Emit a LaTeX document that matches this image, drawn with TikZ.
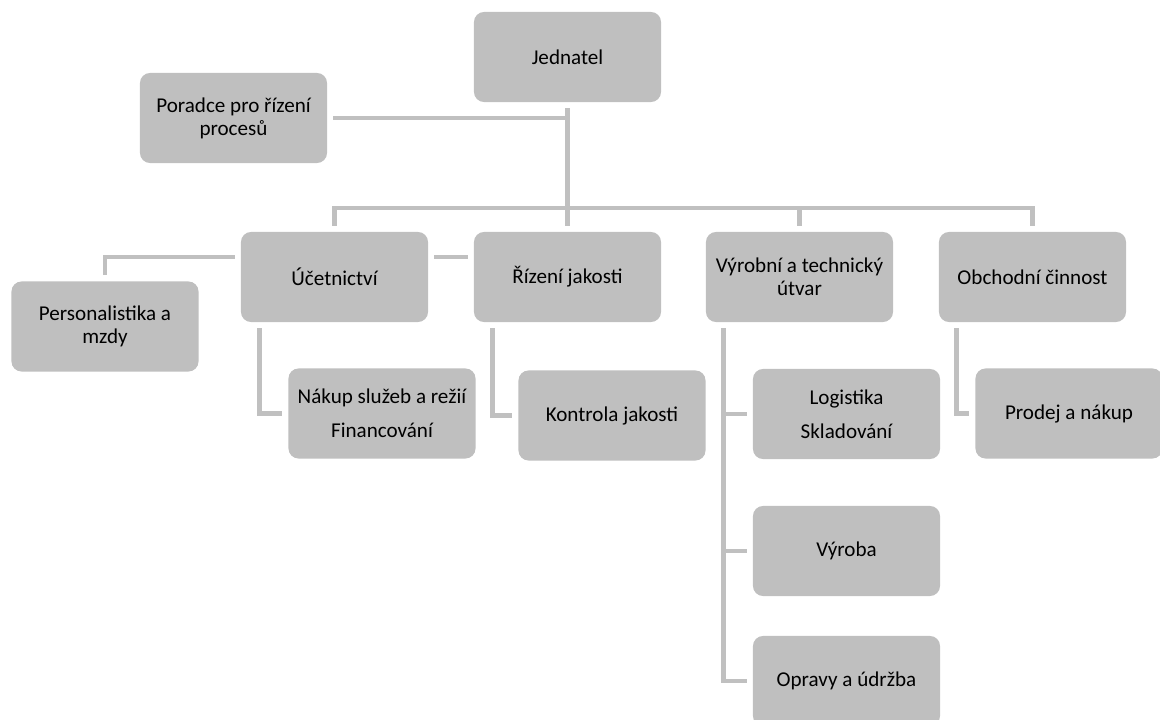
\documentclass[tikz,border=0pt]{standalone}
\usepackage{fontspec}
\setmainfont{Carlito}
\definecolor{boxgray}{HTML}{BFBFBF}
\definecolor{linegray}{HTML}{C0C0C0}
\begin{document}
\begin{tikzpicture}[
    x=0.025cm, y=-0.025cm,
    unit/.style={rectangle, fill=boxgray, rounded corners=0.25cm, minimum width=4.675cm, minimum height=2.25cm, align=center, inner sep=2pt, font=\fontsize{15}{16.5}\selectfont},
    link/.style={draw=linegray, line width=3.5pt, shorten <=0.15cm, shorten >=0.15cm},
    ]

    \clip (0,0) rectangle (1160,720);

    % Top management
    \node[unit] (jed) at (567.5,57) {Jednatel};
    \node[unit] (por) at (233.5,118) {Poradce pro řízení\\procesů};

    % Departments
    \node[unit] (uce) at (334.5,277) {Účetnictví};
    \node[unit] (riz) at (567.5,277) {Řízení jakosti};
    \node[unit] (vyr) at (799.5,277) {Výrobní a technický\\útvar};
    \node[unit] (obc) at (1032.5,277) {Obchodní činnost};

    % Sub-units
    \node[unit] (per) at (105,326.5) {Personalistika a\\mzdy};
    \node[unit] (nak) at (382,413.5) {Nákup služeb a režií\\[8pt]Financování};
    \node[unit] (kon) at (612,415.5) {Kontrola jakosti};
    \node[unit] (log) at (846.5,414) {Logistika\\[8pt]Skladování};
    \node[unit] (vyb) at (846.5,551) {Výroba};
    \node[unit] (opr) at (846.5,681) {Opravy a údržba};
    \node[unit] (pro) at (1069,413.5) {Prodej a nákup};

    % Connectors - top
    \coordinate (bar) at (567.5,208);
    \draw[link] (jed.south) -- (riz.north);
    \draw[link, shorten >=0pt] (por.east) -- (por.east -| jed.south);
    \draw[link] (uce.north) |- (bar) -| (obc.north);
    \draw[link, shorten >=0pt] (vyr.north) -- (vyr.north |- bar);

    % Connectors - assistant line
    \draw[link] (per.north) |- ([yshift=0.5cm]uce.west);
    \draw[link] ([yshift=0.5cm]uce.east) -- ([yshift=0.5cm]riz.west);

    % Connectors - sub-units
    \draw[link] ([xshift=0.475cm]uce.south west) |- (nak.west);
    \draw[link] ([xshift=0.475cm]riz.south west) |- (kon.west);
    \draw[link] ([xshift=0.45cm]vyr.south west) |- (log.west);
    \draw[link] ([xshift=0.45cm]vyr.south west) |- (vyb.west);
    \draw[link] ([xshift=0.45cm]vyr.south west) |- (opr.west);
    \draw[link] ([xshift=0.45cm]obc.south west) |- (pro.west);

\end{tikzpicture}
\end{document}
